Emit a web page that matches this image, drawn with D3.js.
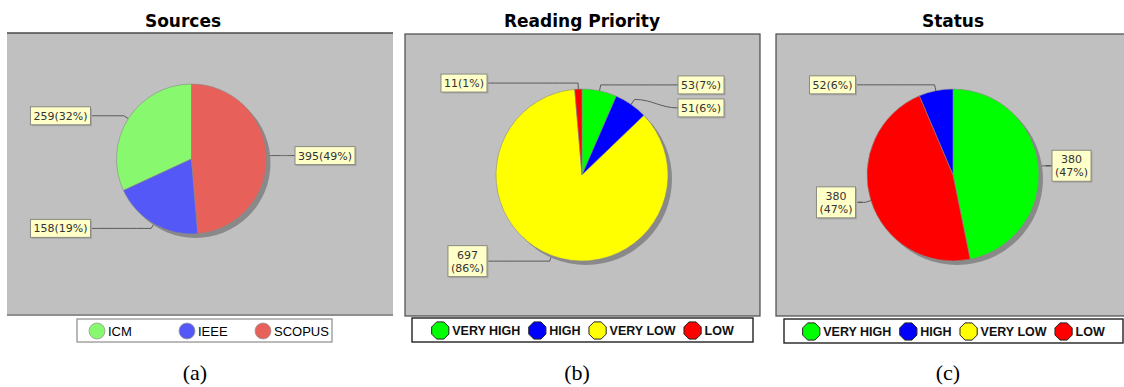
<!DOCTYPE html>
<html>
<head>
<meta charset="utf-8">
<script src="https://cdn.jsdelivr.net/npm/d3@7"></script>
<style>
  html, body { margin: 0; padding: 0; background: #ffffff; }
  svg { display: block; }
</style>
</head>
<body>
<svg id="chart" width="1124" height="387"></svg>
<script>
// ---- data ----
const sourcesCategories = ["ICM", "IEEE", "SCOPUS"];
const sourcesValues = [259, 158, 395];
const sourcesColors = ["#88f86e", "#5458f6", "#e8605a"];

const priorityCategories = ["VERY HIGH", "HIGH", "VERY LOW", "LOW"];
const priorityValues = [53, 51, 697, 11];

const statusCategories = ["VERY HIGH", "HIGH", "VERY LOW", "LOW"];
const statusValues = [380, 52, 0, 380];
const statusSliceOrder = ["VERY HIGH", "LOW", "HIGH", "VERY LOW"];

const levelColors = ["#00ff00", "#0000ff", "#ffff00", "#ff0000"];

const chartTitles = ["Sources", "Reading Priority", "Status"];
const captions = ["(a)", "(b)", "(c)"];

// ---- layout of the three panels ----
const panels = [
  {
    title: chartTitles[0], caption: captions[0],
    categories: sourcesCategories, values: sourcesValues, colors: sourcesColors,
    order: null, clockwise: false,
    plot: { x: 7, y: 33, w: 386, h: 282, frame: "topbottom" },
    cx: 191.5, cy: 159, r: 75,
    gapLeft: 101, gapRight: 103.5, wrapAbove: 99,
    titleX: 183, captionX: 195,
    legend: { x: 77, y: 319, w: 255, h: 23, marker: "circle", itemX: [89, 179, 255] }
  },
  {
    title: chartTitles[1], caption: captions[1],
    categories: priorityCategories, values: priorityValues, colors: levelColors,
    order: null, clockwise: true,
    plot: { x: 405, y: 34, w: 355, h: 282, frame: "full" },
    cx: 582, cy: 175, r: 86,
    gapLeft: 95, gapRight: 96, wrapAbove: 7,
    titleX: 582, captionX: 577,
    legend: { x: 412, y: 318, w: 341, h: 24, marker: "octagon" }
  },
  {
    title: chartTitles[2], caption: captions[2],
    categories: statusCategories, values: statusValues, colors: levelColors,
    order: statusSliceOrder, clockwise: true,
    plot: { x: 776, y: 34, w: 360, h: 282, frame: "full" },
    cx: 953, cy: 175, r: 86,
    gapLeft: 97.5, gapRight: 99, wrapAbove: 7,
    titleX: 953, captionX: 948,
    legend: { x: 784, y: 319, w: 339, h: 24, marker: "octagon" }
  }
];

const svg = d3.select("#chart");
const polar = (cx, cy, rad, a) => [cx + rad * Math.sin(a), cy - rad * Math.cos(a)];

function octagon(cx, cy, rad) {
  return d3.range(8).map(i => {
    const a = Math.PI / 8 + i * Math.PI / 4;
    return [cx + rad * Math.cos(a), cy + rad * Math.sin(a)];
  });
}

panels.forEach(p => {
  const g = svg.append("g");
  const data = p.categories.map((c, i) => ({ category: c, value: p.values[i], color: p.colors[i] }));
  const total = d3.sum(data, d => d.value);

  // plot background
  g.append("rect")
    .attr("x", p.plot.x).attr("y", p.plot.y)
    .attr("width", p.plot.w).attr("height", p.plot.h)
    .attr("fill", "#c0c0c0")
    .attr("stroke", p.plot.frame === "full" ? "#4a4a4a" : "none")
    .attr("stroke-width", 1.2);
  if (p.plot.frame === "topbottom") {
    g.append("line").attr("x1", p.plot.x).attr("x2", p.plot.x + p.plot.w)
      .attr("y1", p.plot.y).attr("y2", p.plot.y)
      .attr("stroke", "#4a4a4a").attr("stroke-width", 1.5);
    g.append("line").attr("x1", p.plot.x).attr("x2", p.plot.x + p.plot.w)
      .attr("y1", p.plot.y + p.plot.h).attr("y2", p.plot.y + p.plot.h)
      .attr("stroke", "#8e8e8e").attr("stroke-width", 2);
  }

  // title
  g.append("text")
    .attr("x", p.titleX).attr("y", 27)
    .attr("text-anchor", "middle")
    .attr("font-family", "DejaVu Sans, sans-serif")
    .attr("font-weight", "bold").attr("font-size", 17)
    .attr("fill", "#000")
    .text(p.title);

  // pie
  const pie = d3.pie()
    .value(d => d.value)
    .sort(p.order ? (a, b) => p.order.indexOf(a.category) - p.order.indexOf(b.category) : null)
    .startAngle(0)
    .endAngle(p.clockwise ? 2 * Math.PI : -2 * Math.PI);
  const arcs = pie(data).filter(a => a.data.value > 0);
  const arc = d3.arc().innerRadius(0).outerRadius(p.r);

  g.append("circle")
    .attr("cx", p.cx + 4).attr("cy", p.cy + 4).attr("r", p.r)
    .attr("fill", "#898989");

  g.append("g").attr("transform", `translate(${p.cx},${p.cy})`)
    .selectAll("path").data(arcs).join("path")
    .attr("d", arc)
    .attr("fill", d => d.data.color)
    .attr("stroke", "#8a8a8a").attr("stroke-width", 0.6);

  // section labels
  const labels = arcs.map(a => {
    const mid = (a.startAngle + a.endAngle) / 2;
    const pct = Math.round(a.data.value / total * 100);
    const text = `${a.data.value}(${pct}%)`;
    const lines = text.length > p.wrapAbove ? [`${a.data.value}`, `(${pct}%)`] : [text];
    return {
      mid, lines,
      side: Math.sin(mid) >= 0 ? 1 : -1,
      anchor: polar(p.cx, p.cy, p.r * 0.9, mid),
      elbow: polar(p.cx, p.cy, p.r * 1.07, mid)
    };
  });

  const lineH = 13, padX = 3;
  labels.forEach(l => {
    const t = g.append("text")
      .attr("font-family", "DejaVu Sans, sans-serif")
      .attr("font-size", 11).attr("fill", "#333");
    l.lines.forEach(s => t.append("tspan").text(s));
    const widths = [];
    t.selectAll("tspan").each(function () { widths.push(this.getComputedTextLength()); });
    l.node = t;
    l.w = d3.max(widths) + padX * 2;
    l.h = l.lines.length * lineH + 5;
    l.y = l.elbow[1];
  });

  // keep boxes on one side from overlapping
  [-1, 1].forEach(side => {
    const group = labels.filter(l => l.side === side).sort((a, b) => a.y - b.y);
    for (let i = 1; i < group.length; i++) {
      const prev = group[i - 1], cur = group[i];
      const minY = prev.y + prev.h / 2 + 5 + cur.h / 2;
      if (cur.y < minY) cur.y = minY;
    }
  });

  labels.forEach(l => {
    const boxX = l.side > 0 ? p.cx + p.gapRight : p.cx - p.gapLeft - l.w;
    const edgeX = l.side > 0 ? boxX : boxX + l.w;
    const top = l.y - l.h / 2;
    const c = 18 * l.side;
    g.insert("path", "text")
      .attr("d", `M${l.anchor[0]},${l.anchor[1]}L${l.elbow[0]},${l.elbow[1]}` +
        `C${l.elbow[0] + c},${l.elbow[1]} ${edgeX - c},${l.y} ${edgeX},${l.y}`)
      .attr("fill", "none").attr("stroke", "#5a5a5a").attr("stroke-width", 1);
    g.insert("rect", "text")
      .attr("x", boxX + 1.5).attr("y", top + 1.5).attr("width", l.w).attr("height", l.h)
      .attr("fill", "#a6a6a6");
    g.insert("rect", "text")
      .attr("x", boxX).attr("y", top).attr("width", l.w).attr("height", l.h)
      .attr("fill", "#ffffc8").attr("stroke", "#8a8a82").attr("stroke-width", 1);
    l.node.raise();
    l.node.attr("text-anchor", "middle");
    l.node.selectAll("tspan")
      .attr("x", boxX + l.w / 2)
      .attr("y", (d, i) => top + 13 + i * lineH);
  });

  // legend
  const L = p.legend;
  const lg = g.append("g");
  lg.append("rect")
    .attr("x", L.x).attr("y", L.y).attr("width", L.w).attr("height", L.h)
    .attr("fill", "#fff")
    .attr("stroke", L.marker === "circle" ? "#8c8c8c" : "#222")
    .attr("stroke-width", L.marker === "circle" ? 1.2 : 1.4);
  const my = L.y + L.h / 2 + 0.5;
  if (L.marker === "circle") {
    data.forEach((d, i) => {
      const x0 = L.itemX[i];
      lg.append("circle").attr("cx", x0 + 8).attr("cy", my).attr("r", 8)
        .attr("fill", d.color).attr("stroke", "#9a9a9a").attr("stroke-width", 0.8);
      lg.append("text").attr("x", x0 + 19).attr("y", my + 4.5)
        .attr("font-family", "Liberation Sans, Arial, sans-serif")
        .attr("font-size", 13).attr("fill", "#000")
        .text(d.category);
    });
  } else {
    const items = data.map(d => {
      const t = lg.append("text")
        .attr("font-family", "Liberation Sans, Arial, sans-serif")
        .attr("font-weight", "bold").attr("font-size", 12.5)
        .attr("fill", "#111").text(d.category);
      return { d, t, tw: t.node().getComputedTextLength() };
    });
    const mark = 18, gapIn = 3, gapOut = 8;
    const totalW = d3.sum(items, it => mark + gapIn + it.tw) + gapOut * (items.length - 1);
    let x = L.x + (L.w - totalW) / 2;
    items.forEach(it => {
      lg.insert("polygon", "text")
        .attr("points", octagon(x + mark / 2, my, mark / 2 + 0.3).join(" "))
        .attr("fill", it.d.color).attr("stroke", "#222").attr("stroke-width", 1);
      it.t.attr("x", x + mark + gapIn).attr("y", my + 4.5);
      x += mark + gapIn + it.tw + gapOut;
    });
  }

  // caption
  g.append("text")
    .attr("x", p.captionX).attr("y", 380)
    .attr("text-anchor", "middle")
    .attr("font-family", "Liberation Serif, Times New Roman, serif")
    .attr("font-size", 22).attr("fill", "#000")
    .text(p.caption);
});
</script>
</body>
</html>
